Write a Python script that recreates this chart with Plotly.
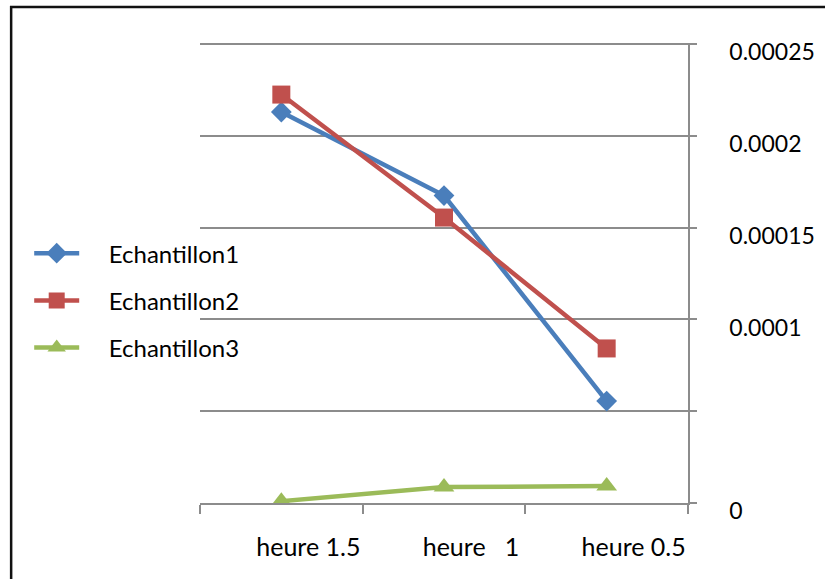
import plotly.graph_objects as go

# Sample readings per time step
categories = ["heure 1.5", "heure\u00a0\u00a0\u00a01", "heure 0.5"]
echantillon1 = [0.000213, 0.0001675, 0.0000555]
echantillon2 = [0.0002225, 0.0001555, 0.0000842]
echantillon3 = [0.0000010, 0.0000087, 0.0000092]

y_tickvals = [0, 0.00005, 0.0001, 0.00015, 0.0002, 0.00025]
y_ticktext = ["0", "", "0.0001", "0.00015", "0.0002", "0.00025"]

FONT = "Lato"
GRID = "#8c8c8c"
PAD = "\u00a0" * 4  # gap between legend symbol and its label

series = [
    ("Echantillon1", echantillon1, "#4a7ebb", "diamond", 16),
    ("Echantillon2", echantillon2, "#c0504d", "square", 18),
    ("Echantillon3", echantillon3, "#9bbb59", "triangle-up", 18),
]

fig = go.Figure()
for name, vals, color, symbol, size in series:
    fig.add_trace(go.Scatter(
        x=categories, y=vals, name=PAD + name, mode="lines+markers",
        legendgroup=name,
        line=dict(color=color, width=4.5),
        marker=dict(symbol=symbol, size=size, color=color),
    ))

fig.update_layout(
    width=825, height=579,
    margin=dict(l=200, r=137, t=43, b=76),
    paper_bgcolor="white", plot_bgcolor="white",
    font=dict(family=FONT, size=24, color="black"),
    showlegend=True,
    legend=dict(
        x=-0.35, y=0.44, xanchor="left", yanchor="middle",
        font=dict(family=FONT, size=24, color="black"),
        itemwidth=45, tracegroupgap=13,
        bgcolor="rgba(0,0,0,0)",
    ),
    xaxis=dict(
        type="category", range=[-0.5, 2.5], automargin=False,
        tickson="boundaries", ticks="outside", ticklen=9, tickcolor=GRID, tickwidth=1.5,
        showline=True, linecolor=GRID, linewidth=1.5,
        showgrid=False, zeroline=False,
        ticklabelshift=27, ticklabelstandoff=21,
        tickfont=dict(family=FONT, size=25, color="black"),
    ),
    yaxis=dict(
        side="right", range=[0, 0.0002506], automargin=False,
        tickvals=y_tickvals, ticktext=y_ticktext,
        ticks="outside", ticklen=7, tickcolor=GRID, tickwidth=1.5,
        showline=True, linecolor=GRID, linewidth=1.5,
        showgrid=True, gridcolor=GRID, gridwidth=1.5,
        zeroline=False,
        ticklabelshift=8, ticklabelstandoff=28,
        tickfont=dict(family=FONT, size=23, color="black"),
    ),
    shapes=[dict(
        type="rect", xref="paper", yref="paper",
        x0=-0.387, x1=2.0, y0=-1.0, y1=1.0784,
        line=dict(color="#111111", width=2.5), fillcolor="rgba(0,0,0,0)",
        layer="below",
    )],
)

fig.write_html("out.html")
